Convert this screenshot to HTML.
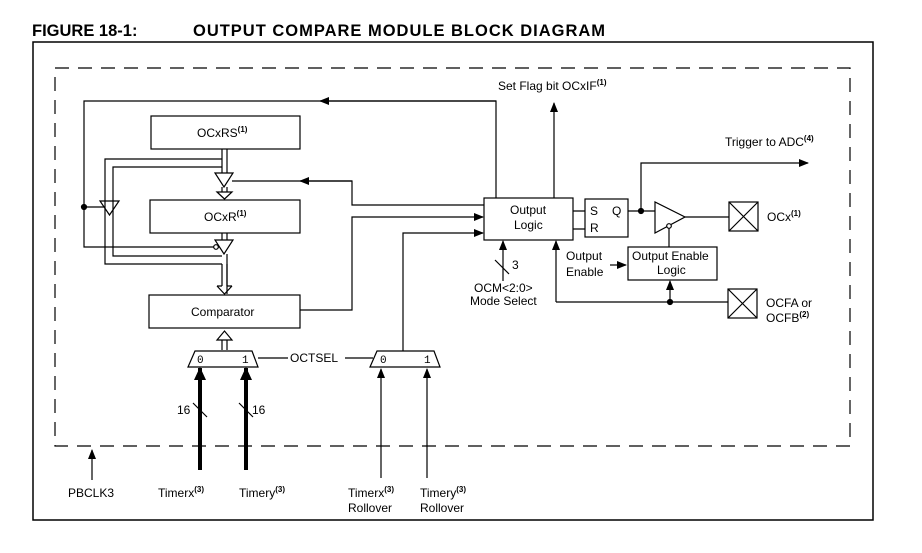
<!DOCTYPE html>
<html><head><meta charset="utf-8"><style>
html,body{margin:0;padding:0;background:#fff;}
svg{display:block;}
text{font-family:"Liberation Sans",Arial,sans-serif;font-size:12px;fill:#000;}
.m{font-family:"Liberation Mono",monospace;font-size:11px;}
</style></head><body>
<svg width="922" height="553" viewBox="0 0 922 553" xmlns="http://www.w3.org/2000/svg">
<defs>
<marker id="a" markerWidth="10" markerHeight="8" refX="9" refY="4" orient="auto" markerUnits="userSpaceOnUse"><path d="M0,0 L10,4 L0,8 z" fill="#000"/></marker>
</defs>
<text x="32" y="36" style="font-size:16.5px;font-weight:bold">FIGURE 18-1:</text>
<text x="193" y="36" style="font-size:16.5px;font-weight:bold" textLength="412">OUTPUT COMPARE MODULE BLOCK DIAGRAM</text>
<g fill="none" stroke="#000" stroke-width="1.2">
<path d="M33,520 V42 H873 V520 Z" stroke-width="1.5"/>
<rect x="55" y="68" width="795" height="378" stroke-dasharray="14,9"/>
<!-- boxes -->
<rect x="151" y="116" width="149" height="33"/>
<rect x="150" y="200" width="150" height="33"/>
<rect x="149" y="295" width="151" height="33"/>
<rect x="484" y="198" width="89" height="42"/>
<rect x="585" y="199" width="43" height="38"/>
<rect x="628" y="247" width="89" height="33"/>
<rect x="729" y="202" width="29" height="29"/><path d="M729,202 L758,231 M758,202 L729,231"/>
<rect x="728" y="289" width="29" height="29"/><path d="M728,289 L757,318 M757,289 L728,318"/>
<!-- top feedback -->
<path d="M496,198 V101 H84 V247 H222"/>
<path d="M496,101 H320" marker-end="url(#a)"/>
<path d="M554,198 V103" marker-end="url(#a)"/>
<circle cx="84" cy="207" r="2.5" fill="#000"/>
<path d="M84,207 H108"/>
<!-- side triangle -->
<path d="M100,201 L119,201 L109.5,215 Z" fill="#fff"/>
<!-- buses -->
<path d="M222,149 V173 M227,149 V173"/>
<path d="M222,159 H105 V264 H222 M227,264 V294"/>
<path d="M222,167 H113 V256 H222"/>
<path d="M227,254 V286 M222,264 V286"/>
<path d="M217,286 L224.5,294 L232,286 M217,286 H222 M227,286 H232" />
<!-- tri 1 -->
<path d="M215,173 L233,173 L224,187 Z" fill="#fff"/>
<path d="M222,187 V192 M227,187 V192 M217,192 L224.5,199 L232,192 Z" fill="#fff"/>
<!-- tri 2 -->
<path d="M222,233 V240 M227,233 V240"/>
<path d="M215,240 L233,240 L224,254 Z" fill="#fff"/>
<circle cx="216" cy="247" r="2.3" fill="#fff"/>
<!-- compare paths -->
<path d="M484,205 H352 V181 H232"/>
<path d="M352,181 H300" marker-end="url(#a)"/>
<path d="M300,310 H352 V217 H483" marker-end="url(#a)"/>
<path d="M403,351 V233 H483" marker-end="url(#a)"/>
<!-- comparator input open arrow -->
<path d="M222,350 V340 M227,350 V340 M217,340 L224.5,331 L232,340 Z" fill="#fff"/>
<!-- muxes -->
<path d="M195,351 H252 L258,367 H188 Z" fill="#fff"/>
<path d="M377,351 H434 L440,367 H370 Z" fill="#fff"/>
<path d="M258,358 H288 M345,358 H373"/>
<path d="M200,470 V368" stroke-width="4" />
<path d="M246,470 V368" stroke-width="4"/>
<path d="M381,478 V369" marker-end="url(#a)"/>
<path d="M427,478 V369" marker-end="url(#a)"/>
<path d="M193,403 L207,417 M239,403 L253,417"/>
<path d="M92,480 V450" marker-end="url(#a)"/>
<!-- SR -->
<path d="M573,211 H585 M573,229 H585"/>
<path d="M628,211 H655"/>
<circle cx="641" cy="211" r="2.5" fill="#000"/>
<path d="M641,211 V163 H808" marker-end="url(#a)"/>
<path d="M655,202 L655,233 L685,217 Z" fill="#fff"/>
<circle cx="669" cy="226" r="2.3" fill="#fff"/>
<path d="M685,217 H729"/>
<path d="M669,228 V247"/>
<path d="M610,265 H626" marker-end="url(#a)"/>
<path d="M556,302 H728"/>
<path d="M556,302 V241" marker-end="url(#a)"/>
<circle cx="670" cy="302" r="2.5" fill="#000"/>
<path d="M670,300 V281" marker-end="url(#a)"/>
<path d="M503,281 V241" marker-end="url(#a)"/>
<path d="M495,260 L509,274"/>
</g>
<!-- thick arrowheads -->
<path d="M194,380 L200,367 L206,380 Z"/>
<path d="M240,380 L246,367 L252,380 Z"/>
<text x="197" y="137">OCxRS<tspan dy="-5" style="font-size:8px;font-weight:bold">(1)</tspan></text>
<text x="204" y="221">OCxR<tspan dy="-5" style="font-size:8px;font-weight:bold">(1)</tspan></text>
<text x="191" y="316">Comparator</text>
<text x="510" y="214">Output</text>
<text x="514" y="229">Logic</text>
<text x="590" y="215">S</text><text x="612" y="215">Q</text>
<text x="590" y="232">R</text>
<text x="632" y="260">Output Enable</text>
<text x="657" y="274">Logic</text>
<text x="566" y="260">Output</text>
<text x="566" y="276">Enable</text>
<text x="498" y="90">Set Flag bit OCxIF<tspan dy="-5" style="font-size:8px;font-weight:bold">(1)</tspan></text>
<text x="725" y="146">Trigger to ADC<tspan dy="-5" style="font-size:8px;font-weight:bold">(4)</tspan></text>
<text x="767" y="221">OCx<tspan dy="-5" style="font-size:8px;font-weight:bold">(1)</tspan></text>
<text x="766" y="307">OCFA or</text>
<text x="766" y="322">OCFB<tspan dy="-5" style="font-size:8px;font-weight:bold">(2)</tspan></text>
<text x="512" y="269">3</text>
<text x="474" y="292">OCM&lt;2:0&gt;</text>
<text x="470" y="305">Mode Select</text>
<text x="290" y="362">OCTSEL</text>
<text class="m" x="197" y="363">0</text><text class="m" x="242" y="363">1</text>
<text class="m" x="380" y="363">0</text><text class="m" x="424" y="363">1</text>
<text x="177" y="414">16</text>
<text x="252" y="414">16</text>
<text x="68" y="497">PBCLK3</text>
<text x="158" y="497">Timerx<tspan dy="-5" style="font-size:8px;font-weight:bold">(3)</tspan></text>
<text x="239" y="497">Timery<tspan dy="-5" style="font-size:8px;font-weight:bold">(3)</tspan></text>
<text x="348" y="497">Timerx<tspan dy="-5" style="font-size:8px;font-weight:bold">(3)</tspan></text>
<text x="348" y="512">Rollover</text>
<text x="420" y="497">Timery<tspan dy="-5" style="font-size:8px;font-weight:bold">(3)</tspan></text>
<text x="420" y="512">Rollover</text>
</svg>
</body></html>
